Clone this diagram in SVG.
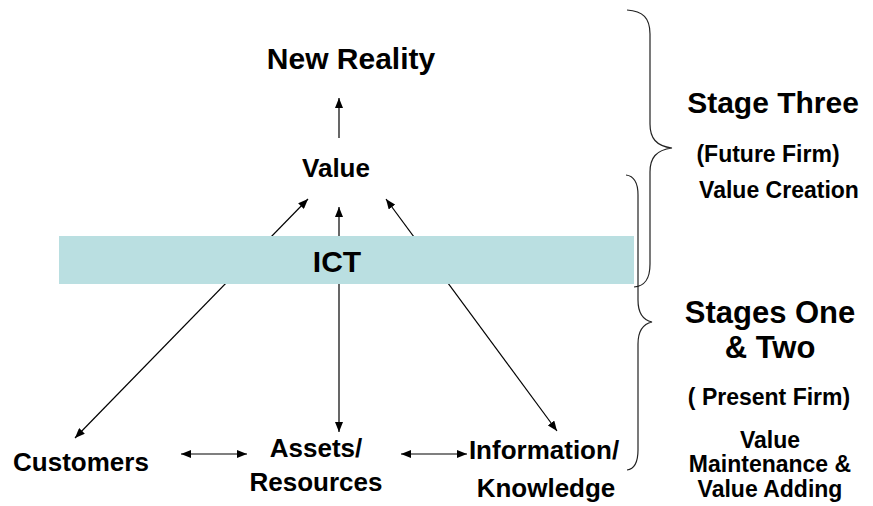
<svg xmlns="http://www.w3.org/2000/svg" width="873" height="506" viewBox="0 0 873 506">
<style>
  text { font-family: "Liberation Sans", Arial, sans-serif; font-weight: bold; fill: #000; text-anchor: middle; }
  .conn { stroke: #000; stroke-width: 1.2; fill: none; }
  .brace { stroke: #222; stroke-width: 1.2; fill: none; }
  .t26 { font-size: 26px; }
  .t30 { font-size: 30px; }
  .t23 { font-size: 23px; }
</style>
<defs>
  <marker id="ah" markerUnits="userSpaceOnUse" markerWidth="10" markerHeight="8" viewBox="0 0 10 8" refX="10" refY="4" orient="auto-start-reverse">
    <path d="M0,0 L10,4 L0,8 z" fill="#000"/>
  </marker>
</defs>
<rect x="0" y="0" width="873" height="506" fill="#fff"/>
<g id="connectors">
  <line class="conn" x1="339" y1="138" x2="339" y2="98" marker-end="url(#ah)"/>
  <line class="conn" x1="75" y1="438" x2="308" y2="199" marker-start="url(#ah)" marker-end="url(#ah)"/>
  <line class="conn" x1="339" y1="432" x2="339" y2="207" marker-start="url(#ah)" marker-end="url(#ah)"/>
  <line class="conn" x1="557" y1="431" x2="386" y2="199" marker-start="url(#ah)" marker-end="url(#ah)"/>
  <line class="conn" x1="181" y1="454" x2="247" y2="454" marker-start="url(#ah)" marker-end="url(#ah)"/>
  <line class="conn" x1="401" y1="454" x2="467" y2="454" marker-start="url(#ah)" marker-end="url(#ah)"/>
</g>
<g id="ict">
  <rect x="59" y="236" width="575" height="48" fill="#badfe1"/>
  <text class="t30" x="337" y="272">ICT</text>
</g>
<g id="new-reality">
  <text x="351" y="69" style="font-size:30px">New Reality</text>
</g>
<g id="value">
  <text class="t26" x="336" y="177">Value</text>
</g>
<g id="customers">
  <text class="t26" x="81" y="471">Customers</text>
</g>
<g id="assets">
  <text class="t26" x="316" y="457">Assets/</text>
  <text class="t26" x="316" y="491">Resources</text>
</g>
<g id="information">
  <text class="t26" x="544" y="459">Information/</text>
  <text class="t26" x="546" y="497">Knowledge</text>
</g>
<g id="stage-three">
  <path class="brace" d="M627,10 C643,11 650,18 650,34 L650,124 C650,138 656,146 672,148 C656,150 650,158 650,172 L650,264 C650,279 645,286 634,287"/>
  <text x="773" y="113" style="font-size:30px">Stage Three</text>
  <text class="t23" x="768" y="162">(Future Firm)</text>
  <text class="t23" x="779" y="198">Value Creation</text>
</g>
<g id="stages-one-two">
  <path class="brace" d="M626,175 C634,176 638,182 638,195 L638,300 C638,313 643,320 652,322 C643,324 638,331 638,344 L638,450 C638,463 634,469 627,470"/>
  <text x="770" y="323" style="font-size:31px">Stages One</text>
  <text x="770" y="358" style="font-size:31px">&amp; Two</text>
  <text class="t23" x="769" y="405">( Present Firm)</text>
  <text class="t23" x="770" y="448">Value</text>
  <text class="t23" x="770" y="472">Maintenance &amp;</text>
  <text class="t23" x="770" y="497">Value Adding</text>
</g>
</svg>
